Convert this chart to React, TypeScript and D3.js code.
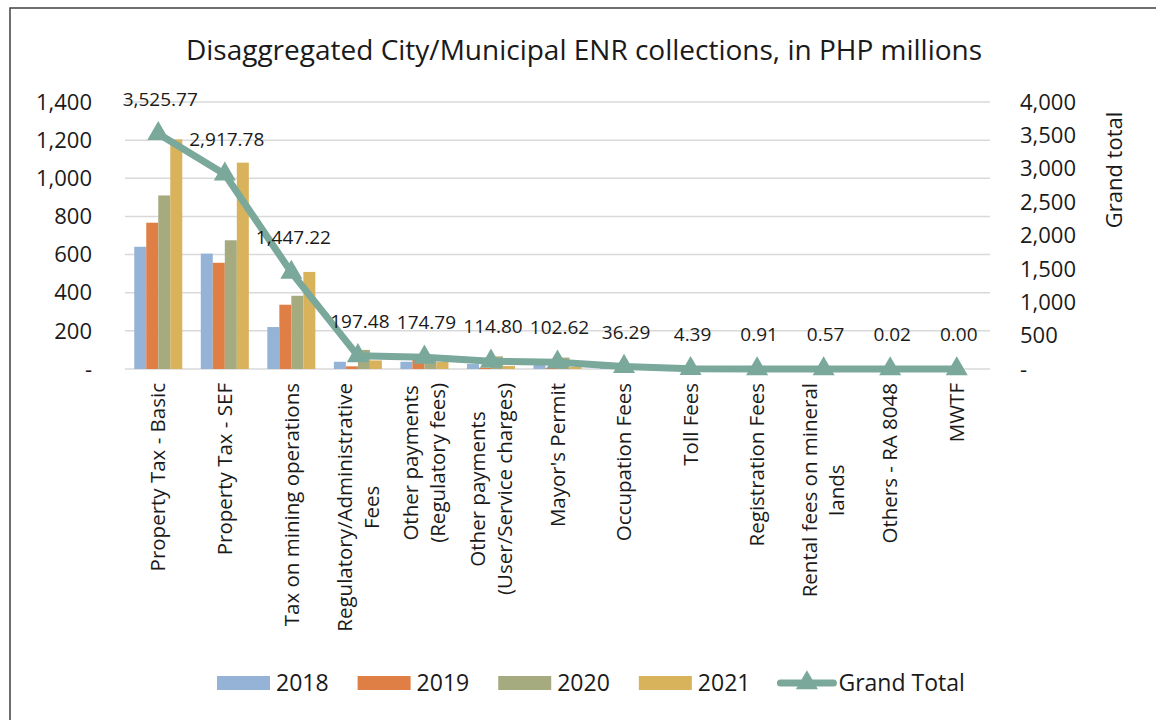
import React, { useEffect, useRef } from 'react';
import * as d3 from 'd3';

// ENR collections by revenue item, PHP millions
const categories = [
  'Property Tax - Basic',
  'Property Tax - SEF',
  'Tax on mining operations',
  'Regulatory/Administrative\nFees',
  'Other payments\n(Regulatory fees)',
  'Other payments\n(User/Service charges)',
  "Mayor's Permit",
  'Occupation Fees',
  'Toll Fees',
  'Registration Fees',
  'Rental fees on mineral\nlands',
  'Others - RA 8048',
  'MWTF',
];
const years = ['2018', '2019', '2020', '2021'];
const v2018 = [641, 605, 220, 38, 38, 26, 26, 8, 1.1, 0.22, 0.14, 0.005, 0];
const v2019 = [767, 557, 337, 14, 48, 7, 6, 8, 1.0, 0.2, 0.14, 0.005, 0];
const v2020 = [910, 675, 384, 100, 52, 66, 60, 10, 1.1, 0.24, 0.14, 0.005, 0];
const v2021 = [1204, 1082, 509, 45, 37, 16, 10.6, 10, 1.2, 0.25, 0.15, 0.005, 0];
const grandTotal = [3525.77, 2917.78, 1447.22, 197.48, 174.79, 114.8, 102.62, 36.29, 4.39, 0.91, 0.57, 0.02, 0.0];
const leftTicks = [0, 200, 400, 600, 800, 1000, 1200, 1400];
const rightTicks = [0, 500, 1000, 1500, 2000, 2500, 3000, 3500, 4000];

const yearValues = [v2018, v2019, v2020, v2021];
const colors = ['#95b3d7', '#e07f45', '#a5ab7f', '#d9b25c'];
const lineColor = '#7aa89b';
const font = "'Open Sans', sans-serif";
const ink = '#1a1a1a';

const App = () => {
  const chartRef = useRef<SVGSVGElement>(null);

  useEffect(() => {
    const svg = d3.select(chartRef.current);
    svg.selectAll('*').remove();
    svg.style('font-family', font);

    const left = 125, right = 990, top = 102, bottom = 369;

    svg.append('rect')
      .attr('x', 10).attr('y', 8)
      .attr('width', 1160).attr('height', 740)
      .attr('fill', 'white')
      .attr('stroke', '#404040')
      .attr('stroke-width', 1.5);

    svg.append('text')
      .attr('x', 584).attr('y', 60)
      .attr('text-anchor', 'middle')
      .attr('font-size', 28)
      .attr('fill', ink)
      .text('Disaggregated City/Municipal ENR collections, in PHP millions');

    const x = d3.scaleBand().domain(categories).range([left, right]);
    const xs = d3.scaleBand().domain(years).range([0, x.bandwidth()]).paddingInner(0).paddingOuter(0.77);
    const yL = d3.scaleLinear().domain([0, 1400]).range([bottom, top]);
    const yR = d3.scaleLinear().domain([0, 4000]).range([bottom, top]);
    const fmt = d3.format(',');

    // gridlines
    svg.append('g').selectAll('line')
      .data(leftTicks)
      .enter()
      .append('line')
      .attr('x1', left).attr('x2', right)
      .attr('y1', d => yL(d)).attr('y2', d => yL(d))
      .attr('stroke', '#d9d9d9')
      .attr('stroke-width', 1.5);

    // left axis labels
    svg.append('g').selectAll('text')
      .data(leftTicks)
      .enter()
      .append('text')
      .attr('x', 92)
      .attr('y', d => yL(d))
      .attr('dy', '0.35em')
      .attr('text-anchor', 'end')
      .attr('font-size', 22)
      .attr('fill', ink)
      .text(d => (d === 0 ? '-' : fmt(d)));

    // right axis labels
    svg.append('g').selectAll('text')
      .data(rightTicks)
      .enter()
      .append('text')
      .attr('x', 1020)
      .attr('y', d => yR(d))
      .attr('dy', '0.35em')
      .attr('font-size', 22)
      .attr('fill', ink)
      .text(d => (d === 0 ? '-' : fmt(d)));

    svg.append('text')
      .attr('transform', 'translate(1122,170) rotate(-90)')
      .attr('text-anchor', 'middle')
      .attr('font-size', 22)
      .attr('fill', ink)
      .text('Grand total');

    // bars
    years.forEach((yr, j) => {
      svg.append('g').selectAll('rect')
        .data(yearValues[j])
        .enter()
        .append('rect')
        .attr('x', (d, i) => (x(categories[i]) as number) + (xs(yr) as number))
        .attr('y', d => yL(d))
        .attr('width', xs.bandwidth())
        .attr('height', d => bottom - yL(d))
        .attr('fill', colors[j]);
    });

    // grand total line
    const cx = (i: number) => (x(categories[i]) as number) + x.bandwidth() / 2;
    const line = d3.line<number>().x((d, i) => cx(i)).y(d => yR(d));
    svg.append('path')
      .datum(grandTotal)
      .attr('d', line)
      .attr('fill', 'none')
      .attr('stroke', lineColor)
      .attr('stroke-width', 7)
      .attr('stroke-linejoin', 'round');

    const tri = d3.symbol().type(d3.symbolTriangle).size(210);
    svg.append('g').selectAll('path')
      .data(grandTotal)
      .enter()
      .append('path')
      .attr('d', tri)
      .attr('transform', (d, i) => `translate(${cx(i)},${yR(d)})`)
      .attr('fill', lineColor);

    svg.append('g').selectAll('text')
      .data(grandTotal)
      .enter()
      .append('text')
      .attr('x', (d, i) => cx(i) + 2)
      .attr('y', d => yR(d) - 28)
      .attr('text-anchor', 'middle')
      .attr('font-size', 19)
      .attr('fill', ink)
      .text(d => d3.format(',.2f')(d));

    // category labels, rotated, multi-line centred
    const lineH = 27;
    categories.forEach((c, i) => {
      const parts = c.split('\n');
      const g = svg.append('g').attr('transform', `translate(${cx(i)},383) rotate(-90)`);
      const texts = g.selectAll('text')
        .data(parts)
        .enter()
        .append('text')
        .attr('y', (d, k) => (k - (parts.length - 1) / 2) * lineH)
        .attr('dy', '0.35em')
        .attr('text-anchor', 'middle')
        .attr('font-size', 20.5)
        .attr('fill', ink)
        .text(d => d);
      let maxLen = 0;
      texts.each(function () {
        maxLen = Math.max(maxLen, (this as SVGTextElement).getComputedTextLength());
      });
      texts.attr('x', -maxLen / 2);
    });

    // legend
    const ly = 683;
    let cursor = 217;
    const legend = svg.append('g');
    years.forEach((yr, j) => {
      legend.append('rect')
        .attr('x', cursor).attr('y', ly - 7)
        .attr('width', 53).attr('height', 14)
        .attr('fill', colors[j]);
      const t = legend.append('text')
        .attr('x', cursor + 59).attr('y', ly)
        .attr('dy', '0.35em')
        .attr('font-size', 23)
        .attr('fill', ink)
        .text(yr);
      cursor += 59 + (t.node() as SVGTextElement).getComputedTextLength() + 29;
    });
    cursor -= 2;
    legend.append('line')
      .attr('x1', cursor + 3).attr('x2', cursor + 56)
      .attr('y1', ly).attr('y2', ly)
      .attr('stroke', lineColor)
      .attr('stroke-width', 7)
      .attr('stroke-linecap', 'round');
    legend.append('path')
      .attr('d', tri)
      .attr('transform', `translate(${cursor + 29.5},${ly})`)
      .attr('fill', lineColor);
    legend.append('text')
      .attr('x', cursor + 61).attr('y', ly)
      .attr('dy', '0.35em')
      .attr('font-size', 23)
      .attr('fill', ink)
      .text('Grand Total');
  }, []);

  return (
    <div style={{ position: 'absolute', left: 0, top: 0 }}>
      <svg ref={chartRef} width={1156} height={720} style={{ display: 'block' }}></svg>
    </div>
  );
};

export default App;
